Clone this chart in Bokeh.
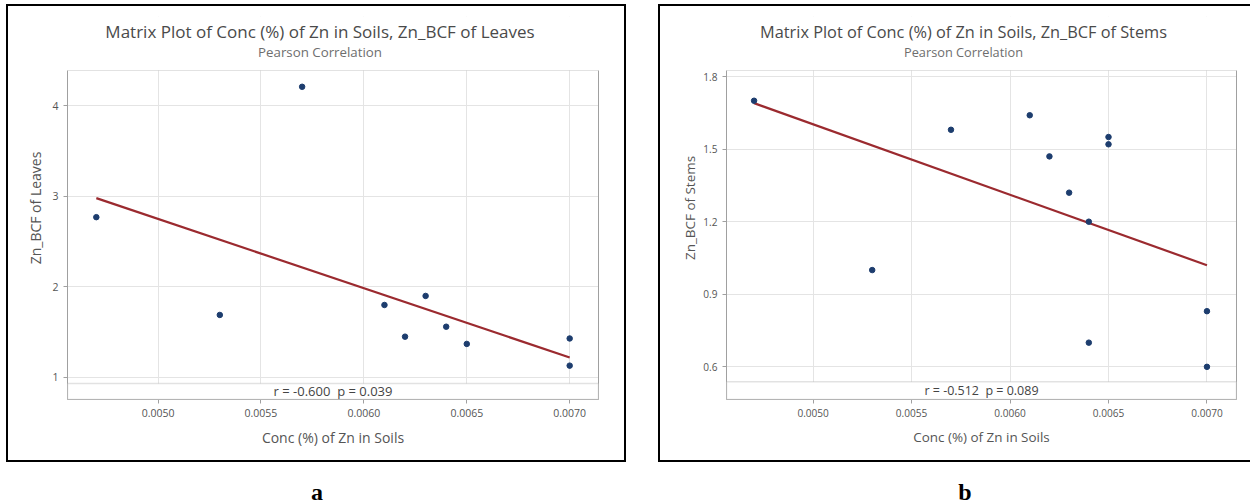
from bokeh.plotting import figure
from bokeh.models import (Range1d, FixedTicker, PrintfTickFormatter, BoxAnnotation, Label, Div,
                          LinearAxis)
from bokeh.layouts import row, column
from bokeh.embed import file_html
from bokeh.resources import INLINE

# ---------------- data ----------------
soil_ticks = [0.0050, 0.0055, 0.0060, 0.0065, 0.0070]

leaves_x = [0.0047, 0.0057, 0.0053, 0.0061, 0.0062, 0.0063, 0.0064, 0.0065, 0.0070, 0.0070]
leaves_y = [2.77, 4.21, 1.69, 1.80, 1.45, 1.90, 1.56, 1.37, 1.43, 1.13]
leaves_fit_x = [0.0047, 0.0070]
leaves_fit_y = [2.98, 1.22]
leaves_ticks = [1, 2, 3, 4]

stems_x = [0.0047, 0.0053, 0.0057, 0.0061, 0.0062, 0.0063, 0.0064, 0.0064, 0.0065, 0.0065, 0.0070, 0.0070]
stems_y = [1.70, 1.00, 1.58, 1.64, 1.47, 1.32, 1.20, 0.70, 1.55, 1.52, 0.83, 0.60]
stems_fit_x = [0.0047, 0.0070]
stems_fit_y = [1.69, 1.02]
stems_ticks = [0.6, 0.9, 1.2, 1.5, 1.8]

FONT = "Open Sans"
GRAY = "#a0a0a0"

# layout geometry (pixels)
H = 458
TOP_PAD = 10          # canvas top -> extended frame top
EXTRA = 54            # extended frame top -> plotting box top
BOX_H = 329           # plotting box height
BOTTOM = H - TOP_PAD - EXTRA - BOX_H


def px(v, k):
    return "%.2fpx" % (v * k)


def make_panel(xs, ys, fx, fy, title, ylabel, yticks, yfmt, stat,
               xr, yr, sep, width, mb_left, mb_right, title_dx, ylab_standoff, k, border):
    y0, y1 = yr
    per_px = (y1 - y0) / BOX_H
    y_ext = y1 + EXTRA * per_px
    frame_w = width - mb_left - mb_right
    x_title = xr[0] + (xr[1] - xr[0]) * (frame_w / 2 + title_dx) / frame_w

    p = figure(width=width, height=H, output_backend="svg", toolbar_location=None,
               x_range=Range1d(*xr), y_range=Range1d(y0, y_ext),
               min_border_left=mb_left, min_border_right=mb_right,
               min_border_top=TOP_PAD, min_border_bottom=BOTTOM,
               background_fill_color="white", border_fill_color="white",
               styles=border)
    p.title = None
    p.outline_line_color = None
    p.grid.grid_line_color = "#e4e4e4"
    p.grid.grid_line_width = 1

    p.xaxis.ticker = FixedTicker(ticks=soil_ticks)
    p.xaxis.formatter = PrintfTickFormatter(format="%.4f")
    p.yaxis.ticker = FixedTicker(ticks=yticks)
    p.yaxis.formatter = PrintfTickFormatter(format=yfmt)
    p.yaxis.bounds = (y0, y1)
    for ax in (p.xaxis, p.yaxis):
        ax.axis_line_color = GRAY
        ax.major_tick_line_color = GRAY
        ax.major_tick_out = 4
        ax.major_tick_in = 0
        ax.minor_tick_line_color = None
        ax.major_label_text_font = FONT
        ax.major_label_text_font_size = px(10.5, k)
        ax.major_label_text_color = "#555555"
        ax.axis_label_text_font = FONT
        ax.axis_label_text_font_style = "normal"
        ax.axis_label_text_font_size = px(14, k)
        ax.axis_label_text_color = "#555555"
    p.xaxis.axis_label = "Conc (%) of Zn in Soils"
    p.xaxis.axis_label_standoff = 8
    p.yaxis.axis_label = ylabel
    p.yaxis.axis_label_standoff = ylab_standoff

    # right edge of the plotting box
    right_edge = LinearAxis(ticker=FixedTicker(ticks=[]), bounds=(y0, y1),
                            axis_line_color=GRAY, major_tick_line_color=None,
                            minor_tick_line_color=None, major_label_text_color=None,
                            major_label_standoff=0, major_tick_out=0)
    p.add_layout(right_edge, "right")

    p.line(fx, fy, line_color="#9b2a2f", line_width=2.2)
    p.scatter(xs, ys, size=5.5, fill_color="#1d3d6e", line_color="#1d3d6e")

    # white area above the plotting box (holds the titles)
    p.add_layout(BoxAnnotation(bottom=y1, fill_color="white", fill_alpha=1.0,
                               line_color=None, level="annotation"))
    # top edge of the plotting box
    p.add_layout(BoxAnnotation(top=y1, fill_color=None, fill_alpha=0,
                               line_color=GRAY, line_width=1, level="annotation"))
    # bottom strip with the correlation statistics
    p.add_layout(BoxAnnotation(top=sep, fill_color="white", fill_alpha=1.0,
                               line_color=GRAY, line_width=1.5, level="annotation"))
    p.add_layout(Label(x=(xr[0] + xr[1]) / 2, y=(sep + y0) / 2, text=stat,
                       text_align="center", text_baseline="middle",
                       text_font=FONT, text_font_size=px(13, k), text_color="#444444"))

    p.add_layout(Label(x=x_title, y=y1 + 39 * per_px, text=title,
                       text_align="center", text_baseline="middle",
                       text_font=FONT, text_font_size=px(17, k), text_color="#4a4a4a"))
    p.add_layout(Label(x=x_title, y=y1 + 19 * per_px, text="Pearson Correlation",
                       text_align="center", text_baseline="middle",
                       text_font=FONT, text_font_size=px(13.3, k), text_color="#6e6e6e"))
    return p


p1 = make_panel(leaves_x, leaves_y, leaves_fit_x, leaves_fit_y,
                "Matrix Plot of Conc (%) of Zn in Soils, Zn_BCF of Leaves",
                "Zn_BCF of Leaves", leaves_ticks, "%d", "r = -0.600 \u00a0p = 0.039",
                (0.00456, 0.00714), (0.756, 4.39), 0.934,
                620, 59, 30, -13, 4, 1.0, {"border": "2px solid black"})
p2 = make_panel(stems_x, stems_y, stems_fit_x, stems_fit_y,
                "Matrix Plot of Conc (%) of Zn in Soils, Zn_BCF of Stems",
                "Zn_BCF of Stems", stems_ticks, "%.1f", "r = -0.512 \u00a0p = 0.089",
                (0.00456, 0.00715), (0.465, 1.825), 0.538,
                592, 66, 16, -18, 1, 0.96,
                {"border-left": "2px solid black", "border-top": "2px solid black",
                 "border-bottom": "2px solid black"})

lab_style = {"text-align": "center", "font-family": "Liberation Serif", "font-weight": "bold",
             "font-size": "24px", "color": "black", "padding-top": "8px", "padding-right": "8px",
             "box-sizing": "border-box"}
da = Div(text="a", width=620, height=36, styles=lab_style)
db = Div(text="b", width=592, height=36, styles=lab_style)

layout = column(row(p1, p2, spacing=32), row(da, db, spacing=32), margin=(4, 0, 0, 6))

open("out.html", "w").write(file_html(layout, INLINE))
